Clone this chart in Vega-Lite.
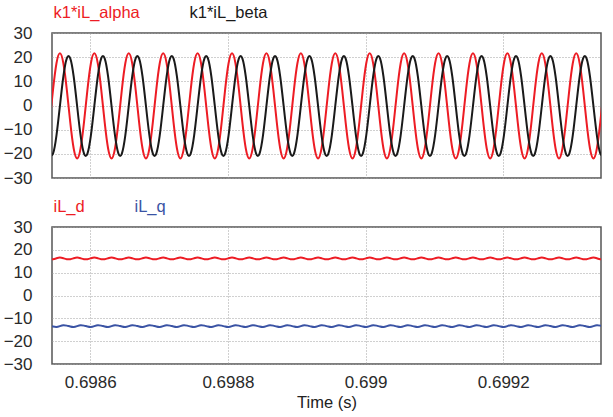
{
"$schema":"https://vega.github.io/schema/vega-lite/v6.json",
"background":"white",
"padding":{"left":2,"top":4,"right":5,"bottom":5},
"spacing":11,
"config":{
 "font":"Liberation Sans",
 "view":{"stroke":"#555555","strokeWidth":1.5},
 "axis":{"labelFont":"Liberation Sans","labelFontSize":17,"labelColor":"#2a2a2a","grid":true,"gridColor":"#a0a0a0","gridDash":[1,2],"gridWidth":1,"ticks":false,"tickSize":0,"domain":false,"titleFont":"Liberation Sans","titleFontSize":16.5,"titleFontWeight":"normal","titleColor":"#222222"},
 "legend":{"labelFont":"Liberation Sans","labelFontSize":16.5}
},
"resolve":{"scale":{"color":"independent"},"legend":{"color":"independent"}},
"datasets":{"w":[
{"t":0.698541,"a":-6.9,"b":-19.9,"d":15.9,"q":-13.2},
{"t":0.698546,"a":6.6,"b":-19.9,"d":15.9,"q":-13.6},
{"t":0.698551,"a":17.5,"b":-12.4,"d":16.3,"q":-13.8},
{"t":0.698556,"a":21.6,"b":-0.2,"d":16.6,"q":-13.4},
{"t":0.698561,"a":17.5,"b":12,"d":16.3,"q":-13},
{"t":0.698566,"a":6.6,"b":19.5,"d":15.9,"q":-13.2},
{"t":0.698571,"a":-6.9,"b":19.5,"d":15.9,"q":-13.6},
{"t":0.698576,"a":-17.8,"b":12,"d":16.3,"q":-13.8},
{"t":0.698581,"a":-21.9,"b":-0.2,"d":16.6,"q":-13.4},
{"t":0.698586,"a":-17.8,"b":-12.4,"d":16.3,"q":-13},
{"t":0.698591,"a":-6.9,"b":-19.9,"d":15.9,"q":-13.2},
{"t":0.698596,"a":6.6,"b":-19.9,"d":15.9,"q":-13.6},
{"t":0.698601,"a":17.5,"b":-12.4,"d":16.3,"q":-13.8},
{"t":0.698606,"a":21.6,"b":-0.2,"d":16.6,"q":-13.4},
{"t":0.698611,"a":17.5,"b":12,"d":16.3,"q":-13},
{"t":0.698616,"a":6.6,"b":19.5,"d":15.9,"q":-13.2},
{"t":0.698621,"a":-6.9,"b":19.5,"d":15.9,"q":-13.6},
{"t":0.698626,"a":-17.8,"b":12,"d":16.3,"q":-13.8},
{"t":0.698631,"a":-21.9,"b":-0.2,"d":16.6,"q":-13.4},
{"t":0.698636,"a":-17.8,"b":-12.4,"d":16.3,"q":-13},
{"t":0.698641,"a":-6.9,"b":-19.9,"d":15.9,"q":-13.2},
{"t":0.698646,"a":6.6,"b":-19.9,"d":15.9,"q":-13.6},
{"t":0.698651,"a":17.5,"b":-12.4,"d":16.3,"q":-13.8},
{"t":0.698656,"a":21.6,"b":-0.2,"d":16.6,"q":-13.4},
{"t":0.698661,"a":17.5,"b":12,"d":16.3,"q":-13},
{"t":0.698666,"a":6.6,"b":19.5,"d":15.9,"q":-13.2},
{"t":0.698671,"a":-6.9,"b":19.5,"d":15.9,"q":-13.6},
{"t":0.698676,"a":-17.8,"b":12,"d":16.3,"q":-13.8},
{"t":0.698681,"a":-21.9,"b":-0.2,"d":16.6,"q":-13.4},
{"t":0.698686,"a":-17.8,"b":-12.4,"d":16.3,"q":-13},
{"t":0.698691,"a":-6.9,"b":-19.9,"d":15.9,"q":-13.2},
{"t":0.698696,"a":6.6,"b":-19.9,"d":15.9,"q":-13.6},
{"t":0.698701,"a":17.5,"b":-12.4,"d":16.3,"q":-13.8},
{"t":0.698706,"a":21.6,"b":-0.2,"d":16.6,"q":-13.4},
{"t":0.698711,"a":17.5,"b":12,"d":16.3,"q":-13},
{"t":0.698716,"a":6.6,"b":19.5,"d":15.9,"q":-13.2},
{"t":0.698721,"a":-6.9,"b":19.5,"d":15.9,"q":-13.6},
{"t":0.698726,"a":-17.8,"b":12,"d":16.3,"q":-13.8},
{"t":0.698731,"a":-21.9,"b":-0.2,"d":16.6,"q":-13.4},
{"t":0.698736,"a":-17.8,"b":-12.4,"d":16.3,"q":-13},
{"t":0.698741,"a":-6.9,"b":-19.9,"d":15.9,"q":-13.2},
{"t":0.698746,"a":6.6,"b":-19.9,"d":15.9,"q":-13.6},
{"t":0.698751,"a":17.5,"b":-12.4,"d":16.3,"q":-13.8},
{"t":0.698756,"a":21.6,"b":-0.2,"d":16.6,"q":-13.4},
{"t":0.698761,"a":17.5,"b":12,"d":16.3,"q":-13},
{"t":0.698766,"a":6.6,"b":19.5,"d":15.9,"q":-13.2},
{"t":0.698771,"a":-6.9,"b":19.5,"d":15.9,"q":-13.6},
{"t":0.698776,"a":-17.8,"b":12,"d":16.3,"q":-13.8},
{"t":0.698781,"a":-21.9,"b":-0.2,"d":16.6,"q":-13.4},
{"t":0.698786,"a":-17.8,"b":-12.4,"d":16.3,"q":-13},
{"t":0.698791,"a":-6.9,"b":-19.9,"d":15.9,"q":-13.2},
{"t":0.698796,"a":6.6,"b":-19.9,"d":15.9,"q":-13.6},
{"t":0.698801,"a":17.5,"b":-12.4,"d":16.3,"q":-13.8},
{"t":0.698806,"a":21.6,"b":-0.2,"d":16.6,"q":-13.4},
{"t":0.698811,"a":17.5,"b":12,"d":16.3,"q":-13},
{"t":0.698816,"a":6.6,"b":19.5,"d":15.9,"q":-13.2},
{"t":0.698821,"a":-6.9,"b":19.5,"d":15.9,"q":-13.6},
{"t":0.698826,"a":-17.8,"b":12,"d":16.3,"q":-13.8},
{"t":0.698831,"a":-21.9,"b":-0.2,"d":16.6,"q":-13.4},
{"t":0.698836,"a":-17.8,"b":-12.4,"d":16.3,"q":-13},
{"t":0.698841,"a":-6.9,"b":-19.9,"d":15.9,"q":-13.2},
{"t":0.698846,"a":6.6,"b":-19.9,"d":15.9,"q":-13.6},
{"t":0.698851,"a":17.5,"b":-12.4,"d":16.3,"q":-13.8},
{"t":0.698856,"a":21.6,"b":-0.2,"d":16.6,"q":-13.4},
{"t":0.698861,"a":17.5,"b":12,"d":16.3,"q":-13},
{"t":0.698866,"a":6.6,"b":19.5,"d":15.9,"q":-13.2},
{"t":0.698871,"a":-6.9,"b":19.5,"d":15.9,"q":-13.6},
{"t":0.698876,"a":-17.8,"b":12,"d":16.3,"q":-13.8},
{"t":0.698881,"a":-21.9,"b":-0.2,"d":16.6,"q":-13.4},
{"t":0.698886,"a":-17.8,"b":-12.4,"d":16.3,"q":-13},
{"t":0.698891,"a":-6.9,"b":-19.9,"d":15.9,"q":-13.2},
{"t":0.698896,"a":6.6,"b":-19.9,"d":15.9,"q":-13.6},
{"t":0.698901,"a":17.5,"b":-12.4,"d":16.3,"q":-13.8},
{"t":0.698906,"a":21.6,"b":-0.2,"d":16.6,"q":-13.4},
{"t":0.698911,"a":17.5,"b":12,"d":16.3,"q":-13},
{"t":0.698916,"a":6.6,"b":19.5,"d":15.9,"q":-13.2},
{"t":0.698921,"a":-6.9,"b":19.5,"d":15.9,"q":-13.6},
{"t":0.698926,"a":-17.8,"b":12,"d":16.3,"q":-13.8},
{"t":0.698931,"a":-21.9,"b":-0.2,"d":16.6,"q":-13.4},
{"t":0.698936,"a":-17.8,"b":-12.4,"d":16.3,"q":-13},
{"t":0.698941,"a":-6.9,"b":-19.9,"d":15.9,"q":-13.2},
{"t":0.698946,"a":6.6,"b":-19.9,"d":15.9,"q":-13.6},
{"t":0.698951,"a":17.5,"b":-12.4,"d":16.3,"q":-13.8},
{"t":0.698956,"a":21.6,"b":-0.2,"d":16.6,"q":-13.4},
{"t":0.698961,"a":17.5,"b":12,"d":16.3,"q":-13},
{"t":0.698966,"a":6.6,"b":19.5,"d":15.9,"q":-13.2},
{"t":0.698971,"a":-6.9,"b":19.5,"d":15.9,"q":-13.6},
{"t":0.698976,"a":-17.8,"b":12,"d":16.3,"q":-13.8},
{"t":0.698981,"a":-21.9,"b":-0.2,"d":16.6,"q":-13.4},
{"t":0.698986,"a":-17.8,"b":-12.4,"d":16.3,"q":-13},
{"t":0.698991,"a":-6.9,"b":-19.9,"d":15.9,"q":-13.2},
{"t":0.698996,"a":6.6,"b":-19.9,"d":15.9,"q":-13.6},
{"t":0.699001,"a":17.5,"b":-12.4,"d":16.3,"q":-13.8},
{"t":0.699006,"a":21.6,"b":-0.2,"d":16.6,"q":-13.4},
{"t":0.699011,"a":17.5,"b":12,"d":16.3,"q":-13},
{"t":0.699016,"a":6.6,"b":19.5,"d":15.9,"q":-13.2},
{"t":0.699021,"a":-6.9,"b":19.5,"d":15.9,"q":-13.6},
{"t":0.699026,"a":-17.8,"b":12,"d":16.3,"q":-13.8},
{"t":0.699031,"a":-21.9,"b":-0.2,"d":16.6,"q":-13.4},
{"t":0.699036,"a":-17.8,"b":-12.4,"d":16.3,"q":-13},
{"t":0.699041,"a":-6.9,"b":-19.9,"d":15.9,"q":-13.2},
{"t":0.699046,"a":6.6,"b":-19.9,"d":15.9,"q":-13.6},
{"t":0.699051,"a":17.5,"b":-12.4,"d":16.3,"q":-13.8},
{"t":0.699056,"a":21.6,"b":-0.2,"d":16.6,"q":-13.4},
{"t":0.699061,"a":17.5,"b":12,"d":16.3,"q":-13},
{"t":0.699066,"a":6.6,"b":19.5,"d":15.9,"q":-13.2},
{"t":0.699071,"a":-6.9,"b":19.5,"d":15.9,"q":-13.6},
{"t":0.699076,"a":-17.8,"b":12,"d":16.3,"q":-13.8},
{"t":0.699081,"a":-21.9,"b":-0.2,"d":16.6,"q":-13.4},
{"t":0.699086,"a":-17.8,"b":-12.4,"d":16.3,"q":-13},
{"t":0.699091,"a":-6.9,"b":-19.9,"d":15.9,"q":-13.2},
{"t":0.699096,"a":6.6,"b":-19.9,"d":15.9,"q":-13.6},
{"t":0.699101,"a":17.5,"b":-12.4,"d":16.3,"q":-13.8},
{"t":0.699106,"a":21.6,"b":-0.2,"d":16.6,"q":-13.4},
{"t":0.699111,"a":17.5,"b":12,"d":16.3,"q":-13},
{"t":0.699116,"a":6.6,"b":19.5,"d":15.9,"q":-13.2},
{"t":0.699121,"a":-6.9,"b":19.5,"d":15.9,"q":-13.6},
{"t":0.699126,"a":-17.8,"b":12,"d":16.3,"q":-13.8},
{"t":0.699131,"a":-21.9,"b":-0.2,"d":16.6,"q":-13.4},
{"t":0.699136,"a":-17.8,"b":-12.4,"d":16.3,"q":-13},
{"t":0.699141,"a":-6.9,"b":-19.9,"d":15.9,"q":-13.2},
{"t":0.699146,"a":6.6,"b":-19.9,"d":15.9,"q":-13.6},
{"t":0.699151,"a":17.5,"b":-12.4,"d":16.3,"q":-13.8},
{"t":0.699156,"a":21.6,"b":-0.2,"d":16.6,"q":-13.4},
{"t":0.699161,"a":17.5,"b":12,"d":16.3,"q":-13},
{"t":0.699166,"a":6.6,"b":19.5,"d":15.9,"q":-13.2},
{"t":0.699171,"a":-6.9,"b":19.5,"d":15.9,"q":-13.6},
{"t":0.699176,"a":-17.8,"b":12,"d":16.3,"q":-13.8},
{"t":0.699181,"a":-21.9,"b":-0.2,"d":16.6,"q":-13.4},
{"t":0.699186,"a":-17.8,"b":-12.4,"d":16.3,"q":-13},
{"t":0.699191,"a":-6.9,"b":-19.9,"d":15.9,"q":-13.2},
{"t":0.699196,"a":6.6,"b":-19.9,"d":15.9,"q":-13.6},
{"t":0.699201,"a":17.5,"b":-12.4,"d":16.3,"q":-13.8},
{"t":0.699206,"a":21.6,"b":-0.2,"d":16.6,"q":-13.4},
{"t":0.699211,"a":17.5,"b":12,"d":16.3,"q":-13},
{"t":0.699216,"a":6.6,"b":19.5,"d":15.9,"q":-13.2},
{"t":0.699221,"a":-6.9,"b":19.5,"d":15.9,"q":-13.6},
{"t":0.699226,"a":-17.8,"b":12,"d":16.3,"q":-13.8},
{"t":0.699231,"a":-21.9,"b":-0.2,"d":16.6,"q":-13.4},
{"t":0.699236,"a":-17.8,"b":-12.4,"d":16.3,"q":-13},
{"t":0.699241,"a":-6.9,"b":-19.9,"d":15.9,"q":-13.2},
{"t":0.699246,"a":6.6,"b":-19.9,"d":15.9,"q":-13.6},
{"t":0.699251,"a":17.5,"b":-12.4,"d":16.3,"q":-13.8},
{"t":0.699256,"a":21.6,"b":-0.2,"d":16.6,"q":-13.4},
{"t":0.699261,"a":17.5,"b":12,"d":16.3,"q":-13},
{"t":0.699266,"a":6.6,"b":19.5,"d":15.9,"q":-13.2},
{"t":0.699271,"a":-6.9,"b":19.5,"d":15.9,"q":-13.6},
{"t":0.699276,"a":-17.8,"b":12,"d":16.3,"q":-13.8},
{"t":0.699281,"a":-21.9,"b":-0.2,"d":16.6,"q":-13.4},
{"t":0.699286,"a":-17.8,"b":-12.4,"d":16.3,"q":-13},
{"t":0.699291,"a":-6.9,"b":-19.9,"d":15.9,"q":-13.2},
{"t":0.699296,"a":6.6,"b":-19.9,"d":15.9,"q":-13.6},
{"t":0.699301,"a":17.5,"b":-12.4,"d":16.3,"q":-13.8},
{"t":0.699306,"a":21.6,"b":-0.2,"d":16.6,"q":-13.4},
{"t":0.699311,"a":17.5,"b":12,"d":16.3,"q":-13},
{"t":0.699316,"a":6.6,"b":19.5,"d":15.9,"q":-13.2},
{"t":0.699321,"a":-6.9,"b":19.5,"d":15.9,"q":-13.6},
{"t":0.699326,"a":-17.8,"b":12,"d":16.3,"q":-13.8},
{"t":0.699331,"a":-21.9,"b":-0.2,"d":16.6,"q":-13.4},
{"t":0.699336,"a":-17.8,"b":-12.4,"d":16.3,"q":-13},
{"t":0.699341,"a":-6.9,"b":-19.9,"d":15.9,"q":-13.2},
{"t":0.699346,"a":6.6,"b":-19.9,"d":15.9,"q":-13.6}
]},
"vconcat":[
 {
  "width":549,"height":145,
  "data":{"name":"w"},
  "transform":[{"fold":["a","b"],"as":["s","v"]}],
  "mark":{"type":"line","interpolate":"natural","strokeWidth":2,"clip":true},
  "encoding":{
   "x":{"field":"t","type":"quantitative","scale":{"domain":[0.6985445,0.699342],"nice":false,"zero":false},"axis":{"values":[0.6986,0.6988,0.699,0.6992],"labels":false,"title":null}},
   "y":{"field":"v","type":"quantitative","scale":{"domain":[-30,30],"nice":false},"axis":{"values":[-30,-20,-10,0,10,20,30],"labelPadding":20,"title":null}},
   "color":{"field":"s","type":"nominal","scale":{"domain":["a","b"],"range":["#ed1c24","#1a1a1a"]},
    "legend":{"orient":"top","direction":"horizontal","title":null,"symbolOpacity":0,"symbolSize":0,"symbolStrokeWidth":0,"labelOffset":-15,"columnPadding":48,"offset":11,"padding":0,
     "labelExpr":"datum.value == 'a' ? 'k1*iL_alpha' : 'k1*iL_beta'",
     "labelColor":{"expr":"datum.value == 'a' ? '#ed1c24' : '#1a1a1a'"}}}
  }
 },
 {
  "width":549,"height":137,
  "data":{"name":"w"},
  "transform":[{"fold":["d","q"],"as":["s","v"]}],
  "mark":{"type":"line","interpolate":"natural","strokeWidth":2,"clip":true},
  "encoding":{
   "x":{"field":"t","type":"quantitative","scale":{"domain":[0.6985445,0.699342],"nice":false,"zero":false},"axis":{"values":[0.6986,0.6988,0.699,0.6992],"format":"~g","labelPadding":10,"title":"Time (s)","titlePadding":4}},
   "y":{"field":"v","type":"quantitative","scale":{"domain":[-30,30],"nice":false},"axis":{"values":[-30,-20,-10,0,10,20,30],"labelPadding":20,"title":null}},
   "color":{"field":"s","type":"nominal","scale":{"domain":["d","q"],"range":["#ed1c24","#3a53a4"]},
    "legend":{"orient":"top","direction":"horizontal","title":null,"symbolOpacity":0,"symbolSize":0,"symbolStrokeWidth":0,"labelOffset":-15,"columnPadding":48,"offset":11,"padding":0,
     "labelExpr":"datum.value == 'd' ? 'iL_d' : 'iL_q'",
     "labelColor":{"expr":"datum.value == 'd' ? '#ed1c24' : '#3a53a4'"}}}
  }
 }
]
}
